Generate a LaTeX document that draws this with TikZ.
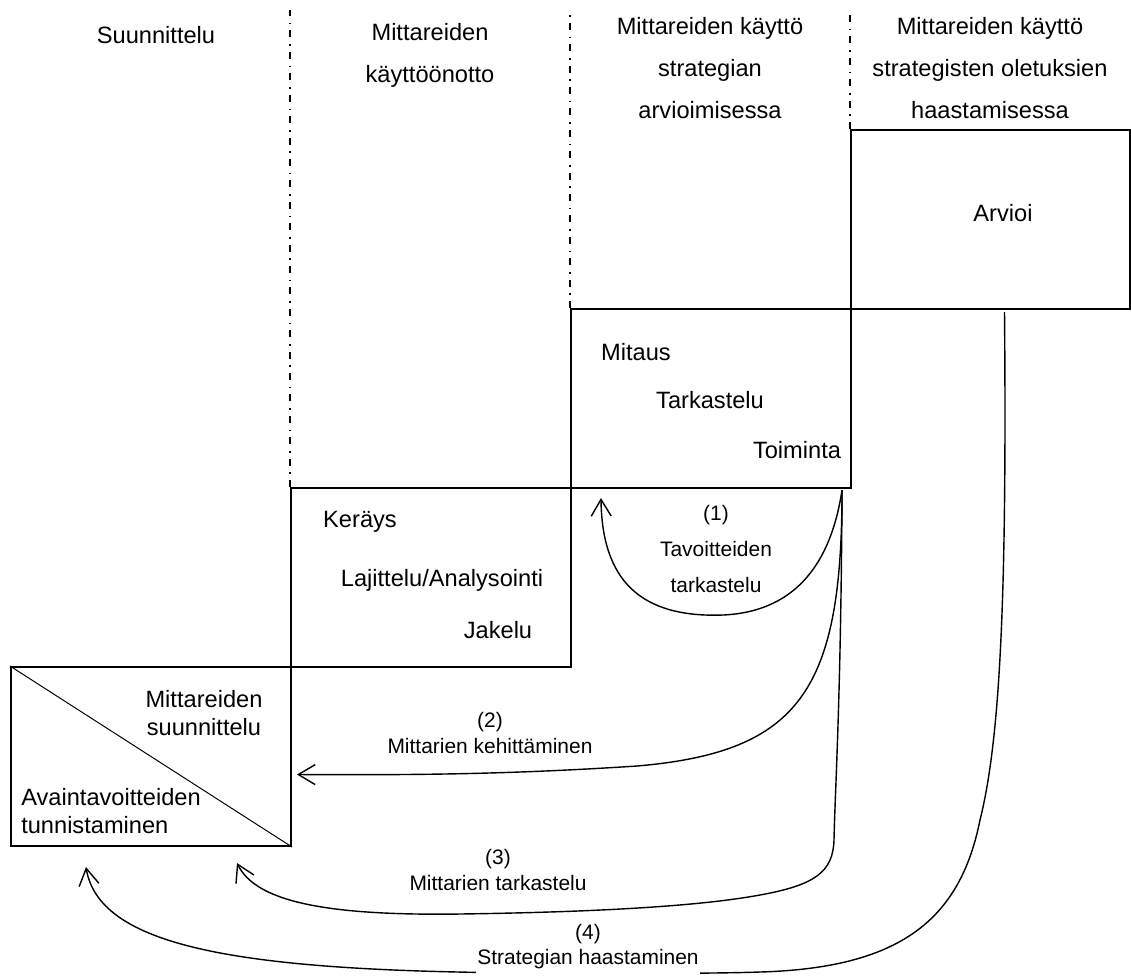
\documentclass[tikz,border=0pt]{standalone}
\usepackage{fontspec}
\setmainfont{Liberation Sans}
\usetikzlibrary{arrows.meta,calc}

\begin{document}
\begin{tikzpicture}[x=0.025cm,y=-0.025cm,
  box/.style={draw,line width=1.4pt,minimum width=7cm,minimum height=4.475cm,inner sep=0},
  sep/.style={line width=0.9pt,dash pattern=on 0.175cm off 0.15cm on 0.04cm off 0.17cm},
  arr/.style={line width=1pt,-{Straight Barb[length=0.42cm,width=0.5cm]}},
  hdr/.style={font=\fontsize{16.8}{29.8}\selectfont,align=center},
  txt/.style={font=\fontsize{16.8}{19.5}\selectfont},
  lbl/.style={font=\fontsize{14.9}{17.8}\selectfont,align=center}]
  \useasboundingbox (0,0) rectangle (1131,976);
  %% stage boxes
  \node[box] (suun) at (151,756.5) {};
  \node[box] (ker)  at (431,577.5) {};
  \node[box] (mit)  at (711,398.5) {};
  \node[box,minimum width=6.975cm] (arv) at (990.5,219.5) {};
  \draw[line width=0.7pt] (suun.north west) -- (suun.south east);
  %% column separators
  \coordinate (top) at (0,10);
  \draw[sep] (ker.north west) -- (ker.north west |- top);
  \draw[sep] (mit.north west) -- (mit.north west |- top);
  \draw[sep] (arv.north west) -- (arv.north west |- top);
  %% column headings
  \node[hdr] (h1) at (156,35) {Suunnittelu};
  \node[hdr] (h2) at (430,55) {Mittareiden\\käyttöönotto};
  \node[hdr] (h3) at (710,68) {Mittareiden käyttö\\strategian\\arvioimisessa};
  \node[hdr] (h4) at (990,68) {Mittareiden käyttö\\strategisten oletuksien\\haastamisessa};
  %% box texts
  \node[txt] (a1) at (1003,213) {Arvioi};
  \node[txt] (m1) at (636,352) {Mitaus};
  \node[txt] (m2) at (710,400) {Tarkastelu};
  \node[txt] (m3) at (797,450) {Toiminta};
  \node[txt] (k1) at (360,522) {Keräys};
  \node[txt] (k2) at (442,580) {Lajittelu/Analysointi};
  \node[txt] (k3) at (498,630) {Jakelu};
  \node[txt,align=center] (s1) at (204,713) {Mittareiden\\suunnittelu};
  \node[txt,align=left,anchor=west,inner sep=0] (s2) at (21,811) {Avaintavoitteiden\\tunnistaminen};
  %% arrow ends
  \coordinate (o)  at ($(mit.south east)+(-10,1)$);
  \coordinate (o4) at ($(arv.south)+(14,2)$);
  \coordinate (t1) at ($(mit.south west)+(31,9)$);
  \coordinate (t2) at ($(suun.east)+(5,18)$);
  \coordinate (t3) at ($(suun.south east)+(-55,16)$);
  \coordinate (t4) at ($(suun.south west)+(76,20)$);
  % (1) back to Mitaus
  \draw[arr] (o) .. controls (830,570) and (790,612) .. (723,615)
    .. controls (640,618) and (602,580) .. (t1);
  % (2) back to suunnittelu
  \draw[arr] (o) .. controls (842,690) and (800,752) .. (637,766)
    .. controls (500,775) and (400,775) .. (t2);
  % (3)
  \draw[arr] (o) .. controls (841,700) and (835,790) .. (834,840)
    .. controls (833,872) and (815,885) .. (760,895)
    .. controls (700,906) and (600,912) .. (460,914)
    .. controls (320,916) and (255,900) .. (t3);
  % (4) from Arvioi
  \draw[arr] (o4) .. controls (1007,600) and (1000,740) .. (980,820)
    .. controls (960,920) and (900,968) .. (760,972)
    .. controls (700,974) and (620,973) .. (560,973)
    .. controls (250,973) and (100,950) .. (t4);
  %% arrow labels
  \node[lbl,font=\fontsize{14.9}{25.6}\selectfont] (l1) at (716,549) {(1)\\Tavoitteiden\\tarkastelu};
  \node[lbl] (l2) at (490,733) {(2)\\Mittarien kehittäminen};
  \node[lbl] (l3) at (498,870) {(3)\\Mittarien tarkastelu};
  \node[lbl,fill=white,inner sep=1pt,text depth=0.4cm,anchor=north] (l4) at (588,923) {(4)\\Strategian haastaminen};
\end{tikzpicture}
\end{document}
